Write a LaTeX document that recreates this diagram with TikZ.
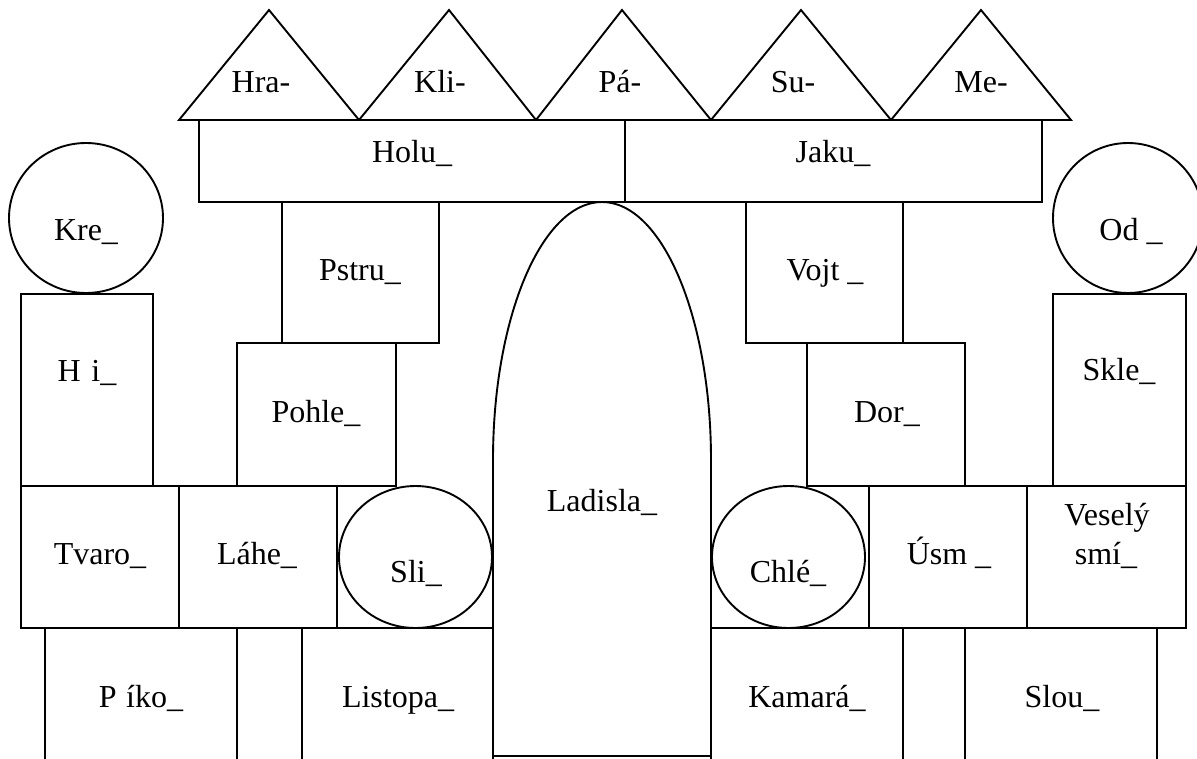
\documentclass[tikz,border=0pt]{standalone}
\usepackage{fontspec}
\setmainfont{Liberation Serif}
\begin{document}
\begin{tikzpicture}[x=1pt,y=-1pt,
  shp/.style={draw=black,line width=1.9pt,line join=miter},
  lbl/.style={anchor=base,inner sep=0pt,font=\fontsize{32}{36}\selectfont}]
\useasboundingbox (0,0) rectangle (1197,758);
\clip (0,0) rectangle (1197,758);
% roof triangles
\draw[shp] (179,120) -- (269,10) -- (359,120) -- cycle;
\draw[shp] (359,120) -- (449,10) -- (536,120) -- cycle;
\draw[shp] (536,120) -- (622,10) -- (711,120) -- cycle;
\draw[shp] (711,120) -- (801,10) -- (891,120) -- cycle;
\draw[shp] (891,120) -- (981,10) -- (1071,120) -- cycle;
% top beams
\draw[shp] (199,120) rectangle (625,202);
\draw[shp] (625,120) rectangle (1042,202);
% towers
\draw[shp] (86,218) ellipse [x radius=77, y radius=75];
\draw[shp] (1128,218) ellipse [x radius=75, y radius=75];
\draw[shp] (21,294) rectangle (153,486);
\draw[shp] (1053,294) rectangle (1186,486);
% inner blocks
\draw[shp] (282,202) rectangle (439,343);
\draw[shp] (746,202) rectangle (903,343);
\draw[shp] (237,343) rectangle (396,486);
\draw[shp] (807,343) rectangle (965,486);
% middle row
\draw[shp] (21,486) rectangle (179,628);
\draw[shp] (179,486) rectangle (337,628);
\draw[shp] (415.5,557) ellipse [x radius=76.5, y radius=71];
\draw[shp] (788.5,557) ellipse [x radius=76.5, y radius=71];
\draw[shp] (869,486) rectangle (1027,628);
\draw[shp] (1027,486) rectangle (1186,628);
% bottom row
\draw[shp] (45,628) rectangle (237,780);
\draw[shp] (302,628) rectangle (493,780);
\draw[shp] (711,628) rectangle (903,780);
\draw[shp] (965,628) rectangle (1157,780);
% gate
\draw[shp] (493,756) -- (493,460) arc[start angle=180, end angle=360, x radius=109, y radius=258] -- (711,756) -- cycle;
% labels
\node[lbl] (hra) at (261,92) {Hra-};
\node[lbl] (kli) at (440,92) {Kli-};
\node[lbl] (pa) at (620,92) {Pá-};
\node[lbl] (su) at (793,92) {Su-};
\node[lbl] (me) at (981,92) {Me-};
\node[lbl] (holu) at (412,162) {Holu\_};
\node[lbl] (jaku) at (833,162) {Jaku\_};
\node[lbl] (kre) at (86,240) {Kre\_};
\node[lbl] (od) at (1131,240) {Od \_};
\node[lbl] (pstru) at (360,280) {Pstru\_};
\node[lbl] (vojt) at (825,280) {Vojt \_};
\node[lbl] (hri) at (87,381) {H\hspace{0.33em}i\_};
\node[lbl] (skle) at (1119,380) {Skle\_};
\node[lbl] (pohle) at (316,422) {Pohle\_};
\node[lbl] (dor) at (887,422) {Dor\_};
\node[lbl] (ladisla) at (602,511) {Ladisla\_};
\node[lbl] (tvaro) at (100,564) {Tvaro\_};
\node[lbl] (lahe) at (257,564) {Láhe\_};
\node[lbl] (sli) at (416,582) {Sli\_};
\node[lbl] (chle) at (788,582) {Chlé\_};
\node[lbl] (usm) at (949,564) {Úsm \_};
\node[lbl] (vesely) at (1107,525) {Veselý};
\node[lbl] (smi) at (1106,564) {smí\_};
\node[lbl] (priko) at (141,707) {P\hspace{0.3em}íko\_};
\node[lbl] (listopa) at (398,707) {Listopa\_};
\node[lbl] (kamara) at (807,707) {Kamará\_};
\node[lbl] (slou) at (1062,707) {Slou\_};
\end{tikzpicture}
\end{document}
